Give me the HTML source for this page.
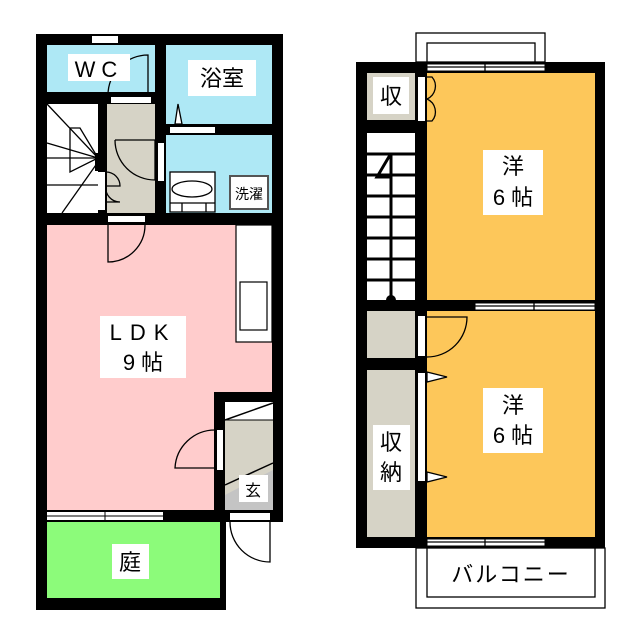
<!DOCTYPE html>
<html><head><meta charset="utf-8"><style>
html,body{margin:0;padding:0;background:#fff;}
svg{display:block}
text{font-family:"Liberation Sans","Noto Sans CJK JP",sans-serif;fill:#000;}
</style></head><body>
<svg width="640" height="640" viewBox="0 0 640 640" xmlns="http://www.w3.org/2000/svg">
<rect x="36" y="34" width="247" height="576" fill="#000"/>
<rect x="226" y="522" width="57" height="88" fill="#fff"/>
<rect x="47" y="45" width="108" height="47" fill="#aee8f5"/>
<rect x="166" y="45" width="106" height="79" fill="#aee8f5"/>
<rect x="166" y="135" width="106" height="78" fill="#aee8f5"/>
<rect x="47" y="104" width="51" height="109" fill="#fff"/>
<rect x="107" y="104" width="48" height="109" fill="#d6d3c6"/>
<rect x="47" y="225" width="225" height="285" fill="#ffcccc"/>
<rect x="214" y="392" width="69" height="130" fill="#000"/>
<rect x="225" y="402" width="48" height="108" fill="#d6d3c6"/>
<polygon points="225,402 273,402 273,420 225,420" fill="#fff"/>
<polygon points="225,495 273,470 273,510 225,510" fill="#c4c4c4"/>
<line x1="225" y1="420" x2="273" y2="403" stroke="#000" stroke-width="1.5"/>
<line x1="225" y1="420" x2="273" y2="420" stroke="#000" stroke-width="1"/>
<line x1="225" y1="485" x2="273" y2="463" stroke="#000" stroke-width="1.5"/>
<rect x="47" y="522" width="173" height="76" fill="#8cfb7a"/>
<rect x="236" y="225" width="36" height="117" fill="#fff" stroke="#000" stroke-width="1.2"/>
<rect x="240" y="282" width="27" height="48" fill="#fff" stroke="#000" stroke-width="1.2"/>
<rect x="92" y="36" width="26" height="7" fill="#fff"/>
<rect x="111" y="97" width="40" height="6" fill="#fff"/>
<rect x="170" y="127" width="45" height="6" fill="#fff"/>
<rect x="108" y="216" width="37" height="6" fill="#fff"/>
<rect x="158" y="143" width="6" height="38" fill="#fff"/>
<rect x="98" y="172" width="7" height="38" fill="#fff"/>
<rect x="47" y="512" width="116" height="8" fill="#fff"/>
<line x1="47" y1="516" x2="163" y2="516" stroke="#000" stroke-width="1"/>
<line x1="105" y1="511" x2="105" y2="521" stroke="#000" stroke-width="1"/>
<rect x="230" y="513" width="40" height="7" fill="#fff"/>
<rect x="217" y="430" width="6" height="40" fill="#fff"/>
<g fill="none" stroke="#000" stroke-width="1.3">
<path d="M148,95 V55 A40,40 0 0 0 108,95"/>
<path d="M108,225 V262 A37,37 0 0 0 145,225"/>
<path d="M115,140 H155 V180 A40,40 0 0 1 115,140"/>
<path d="M106,172 A14,14 0 0 1 120,186 H106 M106,186 A14,14 0 0 0 120,202 H106"/>
<path d="M215,430 A40,40 0 0 0 175,468 H215"/>
<path d="M270,521 V562 A40,40 0 0 1 230,522"/>
<path d="M175,124 L178,104 L182,124 Z" fill="#fff"/>
<line x1="47" y1="104" x2="98" y2="158"/>
<line x1="47" y1="143" x2="98" y2="158"/>
<line x1="47" y1="158" x2="98" y2="158"/>
<line x1="47" y1="185" x2="98" y2="185"/>
<line x1="62" y1="213" x2="98" y2="162"/>
<path d="M70,128 H80 L98,158 L70,172 Z"/>
<rect x="170" y="172" width="45" height="40" fill="#fff"/>
<ellipse cx="192" cy="189" rx="20" ry="8"/>
<line x1="170" y1="203" x2="215" y2="203"/>
<line x1="182" y1="203" x2="182" y2="212"/><line x1="206" y1="203" x2="206" y2="212"/>
</g>
<rect x="230" y="176" width="38" height="33" fill="#fff" stroke="#555" stroke-width="2"/>
<rect x="95" y="153" width="12" height="18" fill="#000"/>
<rect x="68" y="54" width="62" height="27" fill="#fff"/>
<text x="99" y="77" font-size="22" text-anchor="middle" letter-spacing="6">WC</text>
<rect x="188" y="60" width="68" height="36" fill="#fff"/>
<text x="222" y="86" font-size="22" text-anchor="middle">浴室</text>
<text x="249" y="199" font-size="14" text-anchor="middle">洗濯</text>
<rect x="100" y="316" width="86" height="62" fill="#fff"/>
<text x="143" y="340" font-size="22" text-anchor="middle" letter-spacing="8">LDK</text>
<text x="143" y="370" font-size="22" text-anchor="middle">9 帖</text>
<rect x="239" y="475" width="29" height="27" fill="#fff"/>
<text x="253" y="496" font-size="16" text-anchor="middle">玄</text>
<rect x="112" y="544" width="37" height="35" fill="#fff"/>
<text x="130" y="570" font-size="22" text-anchor="middle">庭</text>

<rect x="416" y="33" width="129" height="29" fill="#fff" stroke="#000" stroke-width="1.3"/>
<rect x="427" y="43" width="108" height="19" fill="#fff" stroke="#000" stroke-width="1.3"/>
<rect x="416" y="548" width="189" height="60" fill="#fff" stroke="#000" stroke-width="1.3"/>
<rect x="427" y="548" width="168" height="49" fill="#fff" stroke="#000" stroke-width="1.3"/>
<rect x="356" y="62" width="249" height="486" fill="#000"/>
<rect x="427" y="73" width="168" height="227" fill="#fdc75a"/>
<rect x="427" y="311" width="168" height="226" fill="#fdc75a"/>
<rect x="367" y="73" width="48" height="47" fill="#d6d3c6"/>
<rect x="367" y="133" width="48" height="167" fill="#fff"/>
<rect x="367" y="311" width="48" height="47" fill="#d6d3c6"/>
<rect x="367" y="370" width="48" height="167" fill="#d6d3c6"/>
<g stroke="#000" stroke-width="3">
<line x1="367" y1="154" x2="415" y2="154"/><line x1="367" y1="175" x2="415" y2="175"/>
<line x1="367" y1="196" x2="415" y2="196"/><line x1="367" y1="217" x2="415" y2="217"/>
<line x1="367" y1="238" x2="415" y2="238"/><line x1="367" y1="259" x2="415" y2="259"/>
<line x1="367" y1="280" x2="415" y2="280"/>
<line x1="391" y1="154" x2="391" y2="300"/>
<path d="M390,155 L377,177 H392" fill="none"/>
</g>
<circle cx="391" cy="300" r="5" fill="#000"/>
<g fill="#fff" stroke="#000" stroke-width="1">
<rect x="427" y="64" width="118" height="7"/>
<rect x="475" y="303" width="120" height="7"/>
<rect x="427" y="539" width="118" height="7"/>
</g>
<g stroke="#000" stroke-width="1.3">
<line x1="427" y1="67" x2="545" y2="67"/><line x1="485" y1="62" x2="485" y2="73"/>
<line x1="475" y1="306" x2="595" y2="306"/><line x1="534" y1="300" x2="534" y2="311"/>
<line x1="427" y1="542" x2="545" y2="542"/><line x1="485" y1="537" x2="485" y2="548"/>
</g>
<rect x="418" y="77" width="7" height="44" fill="#fff"/>
<rect x="418" y="316" width="7" height="40" fill="#fff"/>
<rect x="418" y="373" width="7" height="108" fill="#fff"/>
<g fill="none" stroke="#000" stroke-width="1.3">
<path d="M427,77 H432 A14,14 0 0 1 427,99 A14,14 0 0 1 432,121 H427"/>
<path d="M427,317 H467 A40,40 0 0 1 427,357"/>
<path d="M427,372 L447,377 L427,382 Z" fill="#fff"/>
<path d="M427,472 L447,477 L427,482 Z" fill="#fff"/>
</g>
<rect x="373" y="77" width="36" height="37" fill="#fff"/>
<text x="391" y="104" font-size="22" text-anchor="middle">収</text>
<rect x="483" y="150" width="60" height="65" fill="#fff"/>
<text x="513" y="174" font-size="22" text-anchor="middle">洋</text>
<text x="513" y="205" font-size="22" text-anchor="middle">6 帖</text>
<rect x="483" y="388" width="60" height="65" fill="#fff"/>
<text x="513" y="413" font-size="22" text-anchor="middle">洋</text>
<text x="513" y="443" font-size="22" text-anchor="middle">6 帖</text>
<rect x="373" y="425" width="37" height="65" fill="#fff"/>
<text x="391" y="450" font-size="22" text-anchor="middle">収</text>
<text x="391" y="480" font-size="22" text-anchor="middle">納</text>
<text x="511" y="582" font-size="22" text-anchor="middle" letter-spacing="2">バルコニー</text>
</svg>
</body></html>
